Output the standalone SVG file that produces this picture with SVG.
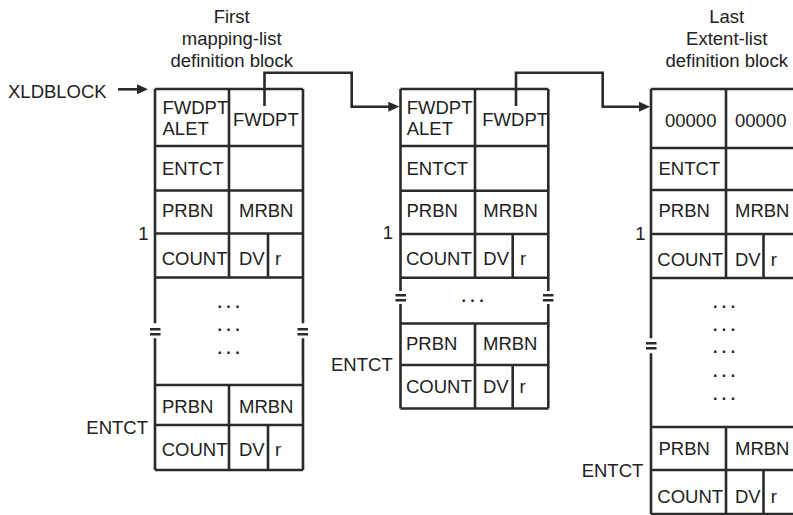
<svg xmlns="http://www.w3.org/2000/svg" width="793" height="515" viewBox="0 0 793 515">
<style>
  .ln { fill: none; stroke: #2a2a2a; stroke-width: 2.6; }
  .conn { fill: none; stroke: #2a2a2a; stroke-width: 2.6; }
  text { font-family: "Liberation Sans", Arial, Helvetica, sans-serif; font-size: 18.5px; fill: #222; }
  .mid { text-anchor: middle; }
  .end { text-anchor: end; }
  .dots { text-anchor: middle; font-weight: bold; font-size: 16px; }
</style>
<defs>
  <marker id="ah" viewBox="0 0 11 10" markerWidth="11" markerHeight="10" refX="2" refY="5" orient="auto" markerUnits="userSpaceOnUse">
    <path d="M0,0 L11,5 L0,10 z" fill="#2a2a2a"/>
  </marker>
</defs>
<rect width="793" height="515" fill="#fff"/>

<g id="title-first">
  <text class="mid" x="231.7" y="22.7">First</text>
  <text class="mid" x="231.7" y="44.7">mapping-list</text>
  <text class="mid" x="231.7" y="66.7">definition block</text>
</g>
<g id="title-last">
  <text class="mid" x="726.7" y="22.7">Last</text>
  <text class="mid" x="726.7" y="44.7">Extent-list</text>
  <text class="mid" x="726.7" y="66.7">definition block</text>
</g>
<g id="xldblock">
  <text x="8" y="98.3">XLDBLOCK</text>
</g>

<g id="block-first">
  <path class="ln" d="M155,89 H303 M155,89 V323.3 M155,338.3 V470 M303,89 V323.3 M303,338.3 V470 M155,470 H303
    M155,146 H303 M155,190.5 H303 M155,233.5 H303 M155,277.5 H303 M155,385 H303 M155,425 H303
    M229,89 V277.5 M229,385 V470 M268,233.5 V277.5 M268,425 V470
    M150,329.3 H160.5 M150,334.3 H160.5 M297.5,329.3 H308 M297.5,334.3 H308"/>
  <text x="162.5" y="113.6">FWDPT<tspan x="162.5" y="134.6">ALET</tspan></text>
  <text x="233" y="126">FWDPT</text>
  <text x="162" y="174.5">ENTCT</text>
  <text x="162" y="216.7">PRBN</text>
  <text x="239" y="216.7">MRBN</text>
  <text x="161.7" y="265">COUNT</text>
  <text x="239" y="265">DV</text>
  <text x="275" y="265">r</text>
  <text class="dots" x="228.5" y="308">. . .</text>
  <text class="dots" x="228.5" y="330.5">. . .</text>
  <text class="dots" x="228.5" y="353.5">. . .</text>
  <text x="162" y="413.3">PRBN</text>
  <text x="239" y="413.3">MRBN</text>
  <text x="161.7" y="456">COUNT</text>
  <text x="239" y="456">DV</text>
  <text x="275" y="456">r</text>
  <text class="end" x="148.5" y="239.5">1</text>
  <text class="end" x="148" y="434.3">ENTCT</text>
</g>

<g id="block-middle">
  <path class="ln" d="M400.5,89 H548.3 M400.5,89 V291 M400.5,304 V408.5 M548.3,89 V291 M548.3,304 V408.5 M400.5,408.5 H548.3
    M400.5,146 H548.3 M400.5,190.8 H548.3 M400.5,234 H548.3 M400.5,277.7 H548.3 M400.5,323.5 H548.3 M400.5,365 H548.3
    M475,89 V277.7 M475,323.5 V408.5 M512.7,234 V277.7 M512.7,365 V408.5
    M395.5,295.3 H406 M395.5,300.3 H406 M543,295.3 H553.5 M543,300.3 H553.5"/>
  <text x="406.7" y="113.6">FWDPT<tspan x="406.7" y="134.6">ALET</tspan></text>
  <text x="482.3" y="126">FWDPT</text>
  <text x="406.5" y="174.5">ENTCT</text>
  <text x="406.5" y="216.7">PRBN</text>
  <text x="483.3" y="216.7">MRBN</text>
  <text x="406" y="265">COUNT</text>
  <text x="483.3" y="265">DV</text>
  <text x="520" y="265">r</text>
  <text class="dots" x="472.5" y="301.5">. . .</text>
  <text x="406" y="350">PRBN</text>
  <text x="483" y="350">MRBN</text>
  <text x="406" y="392.7">COUNT</text>
  <text x="483" y="392.7">DV</text>
  <text x="519.5" y="392.7">r</text>
  <text class="end" x="393" y="238.5">1</text>
  <text class="end" x="392.7" y="370.7">ENTCT</text>
</g>

<g id="block-last">
  <path class="ln" d="M651,89 H799 M651,89 V338.3 M651,353.3 V514 M651,514 H799
    M651,148 H799 M651,190 H799 M651,234 H799 M651,278 H799 M651,427 H799 M651,470 H799
    M726,89 V278 M726,427 V514 M763.5,234 V278 M763.5,470 V514
    M646,343.3 H656.5 M646,348.3 H656.5"/>
  <text x="665" y="126.7">00000</text>
  <text x="735" y="126.7">00000</text>
  <text x="658.5" y="174.5">ENTCT</text>
  <text x="658.5" y="217">PRBN</text>
  <text x="735" y="217">MRBN</text>
  <text x="657.3" y="266">COUNT</text>
  <text x="735" y="266">DV</text>
  <text x="770.7" y="266">r</text>
  <text class="dots" x="724" y="308">. . .</text>
  <text class="dots" x="724" y="330.6">. . .</text>
  <text class="dots" x="724" y="353.3">. . .</text>
  <text class="dots" x="724" y="376.6">. . .</text>
  <text class="dots" x="724" y="399.6">. . .</text>
  <text x="658.5" y="455">PRBN</text>
  <text x="735" y="455">MRBN</text>
  <text x="657.3" y="503.3">COUNT</text>
  <text x="735" y="503.3">DV</text>
  <text x="770.7" y="503.3">r</text>
  <text class="end" x="645.5" y="239.5">1</text>
  <text class="end" x="643.3" y="476.7">ENTCT</text>
</g>

<g id="connectors">
  <path class="conn" d="M118,89.3 H139" marker-end="url(#ah)"/>
  <path class="conn" d="M264.5,106 V72.7 H351.7 V106.7 H390.3" marker-end="url(#ah)"/>
  <path class="conn" d="M516,106 V72.7 H602.7 V106.7 H641" marker-end="url(#ah)"/>
</g>
</svg>
